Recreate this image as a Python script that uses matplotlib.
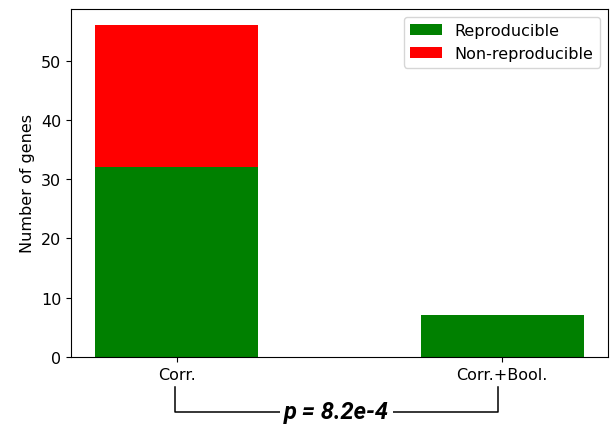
import matplotlib.pyplot as plt

plt.rcParams['font.size'] = 11.5

categories = ['Corr.', 'Corr.+Bool.']
reproducible = [32, 7]
non_reproducible = [24, 0]
p_text = 'p = 8.2e-4'

fig, ax = plt.subplots(figsize=(6.11, 4.27), dpi=100)
fig.subplots_adjust(left=0.116, right=0.995, top=0.977, bottom=0.162)

x = list(range(len(categories)))
ax.bar(x, reproducible, width=0.5, color='green', label='Reproducible')
ax.bar(x, non_reproducible, width=0.5, bottom=reproducible, color='red', label='Non-reproducible')

ax.set_xticks(x)
ax.set_xticklabels(categories)
ax.set_ylabel('Number of genes')
ax.legend(loc='upper right')

# significance bracket under the x labels
tr = ax.get_xaxis_transform()
y_top, y_bot = -0.086, -0.158
xl, xr = x[0] - 0.006, x[1] - 0.012
ax.plot([xl, xl, xr, xr], [y_top, y_bot, y_bot, y_top], color='black',
        lw=1.1, transform=tr, clip_on=False)
ax.text((xl + xr) / 2, y_bot, p_text, transform=tr, ha='center', va='center',
        fontsize=17, fontweight='bold', fontstyle='italic', family='Roboto',
        bbox=dict(facecolor='white', edgecolor='none', pad=3))

fig.savefig('out.png', dpi=100)
